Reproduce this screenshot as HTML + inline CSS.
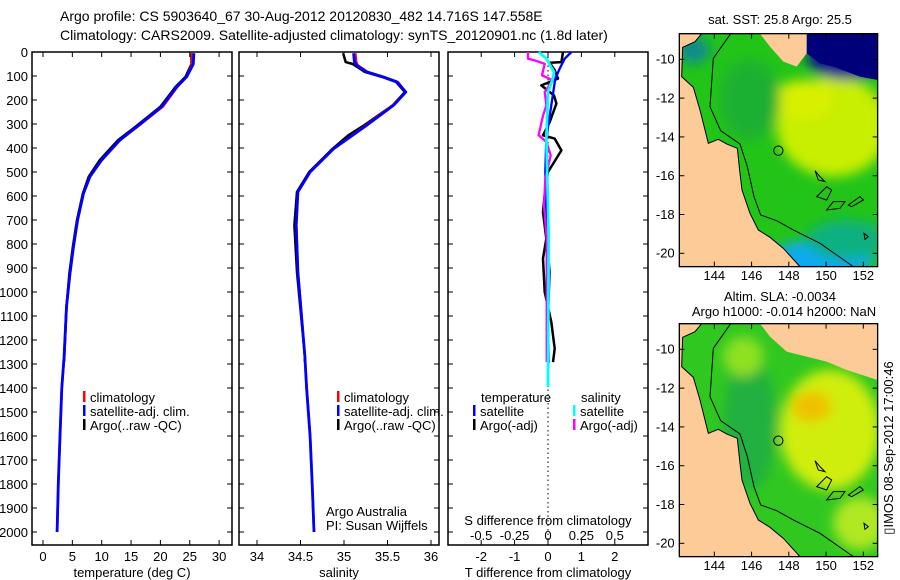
<!DOCTYPE html>
<html><head><meta charset="utf-8"><style>
body{margin:0;background:#fff;}
svg{display:block;font-family:"Liberation Sans",sans-serif;}
</style></head><body>
<svg id="fig" width="900" height="580" viewBox="0 0 900 580">
<defs>
<filter id="bl" x="-20%" y="-20%" width="140%" height="140%"><feGaussianBlur stdDeviation="18"/></filter>
<clipPath id="mapclip"><rect x="58" y="101" width="595" height="699"/></clipPath>
</defs>
<text x="60" y="21" font-size="14">Argo profile: CS 5903640_67 30-Aug-2012 20120830_482 14.716S 147.558E</text>
<text x="60" y="40" font-size="14">Climatology: CARS2009. Satellite-adjusted climatology: synTS_20120901.nc (1.8d later)</text>
<g id="plots"></g>
<g id="maps"></g>
<text transform="translate(893,448) rotate(-90)" font-size="13" text-anchor="middle">▯IMOS 08-Sep-2012 17:00:46</text>
</svg>
<script>
// ---- data ----
const depthT = [5,50,103,145,228,311,367,450,519,589,700,811,922,1061,1269,1400,1600,1800,2000];
const tempSat = [25.7,25.6,24.5,22.8,20.2,16,13.1,10,8,6.9,5.9,5.2,4.6,4.0,3.6,3.2,2.9,2.6,2.4];
const tempClim = [25.4,25.4,24.5,22.9,20.4,16.1,13.1,10,8,6.9,5.9,5.2,4.6,4.0,3.6,3.2,2.9,2.6,2.4];
const depthTArgo = [5,50,103,145,228,311,367,450,519,589,700,811,922,1061,1290];
const tempArgo = [25.3,25.3,24.3,22.6,20.0,15.8,12.8,9.7,7.8,6.8,5.8,5.1,4.5,4.0,3.6];

const depthS = [5,42,56,83,104,125,167,222,306,403,500,583,722,917,1264,1400,1600,1800,2000];
const salSat = [35.11,35.12,35.15,35.26,35.45,35.61,35.71,35.57,35.26,34.88,34.61,34.47,34.45,34.47,34.55,34.57,34.61,34.635,34.655];
const salClim = [35.13,35.14,35.16,35.27,35.46,35.62,35.71,35.56,35.25,34.88,34.61,34.47,34.45,34.47,34.55,34.57,34.61,34.635,34.655];
const depthSArgo = [5,42,50,83,104,125,167,222,306,347,403,500,583,722,917,1264,1290];
const salArgo = [34.99,35.02,35.1,35.24,35.44,35.60,35.70,35.56,35.23,35.05,34.87,34.60,34.46,34.43,34.46,34.55,34.55];

const depthTd = [0,28,69,111,222,361,500,778,917,1100,1296];
const tdSat = [0.70,0.5,0.35,0.22,0.1,-0.05,-0.08,-0.03,0.05,0,0.02];
const depthTdArgo = [0,42,45,76,111,139,181,215,292,347,361,410,500,569,667,778,861,1000,1125,1236,1292];
const tdArgo = [0.45,0.40,0.05,0.2,0.3,-0.2,0.18,0.25,0.05,-0.15,0.2,0.4,0,-0.08,-0.15,-0.05,-0.15,-0.1,0.1,0.2,0.15];
const depthSd = [0,28,35,49,97,118,167,222,264,347,375,431,528,639,778,1292];
const sdArgo = [-0.15,-0.15,-0.1,-0.025,-0.045,0.037,-0.025,-0.012,-0.037,-0.07,-0.012,0.02,-0.02,-0.03,-0.01,-0.01];
const depthSdSat = [0,28,83,111,167,361,778,1396];
const sdSat = [-0.07,-0.012,0.045,0.037,0,-0.012,0.005,0];

const depthTicks = [0,100,200,300,400,500,600,700,800,900,1000,1100,1200,1300,1400,1500,1600,1700,1800,1900,2000];
const tempTicks = [0,5,10,15,20,25,30];
const salTicks = [34,34.5,35,35.5,36];
const tdTicks = [-2,-1,0,1,2];
const sdTicks = [-0.5,-0.25,0,0.25,0.5];
const mapLonTicks = [144,146,148,150,152];
const mapLatTicks = [10,12,14,16,18,20];

// ---- scales ----
const NS='http://www.w3.org/2000/svg';
const yD = d => 52 + d*0.24;
const xT = t => 43 + t*5.87;
const xS = s => 257 + (s-34)*87;
const xTd = t => 548 + t*33.4;
const xSd = s => 548 + s*133.6;
const plots = document.getElementById('plots');
function el(tag, attrs, parent){const e=document.createElementNS(NS,tag);for(const k in attrs)e.setAttribute(k,attrs[k]);(parent||plots).appendChild(e);return e;}
function txt(x,y,s,size,anchor,parent){const t=el('text',{x:x,y:y,'font-size':size,'text-anchor':anchor||'start'},parent);t.textContent=s;return t;}

const panels=[{x0:32,x1:232,name:'temperature-panel'},{x0:239,x1:439,name:'salinity-panel'},{x0:448,x1:648,name:'difference-panel'}];
const TOP=52, BOT=545;
panels.forEach(p=>{
  const r=el('rect',{x:p.x0,y:TOP,width:p.x1-p.x0,height:BOT-TOP,fill:'none',stroke:'#000','stroke-width':1.5});
  
  
  depthTicks.forEach(d=>{
    el('line',{x1:p.x0,x2:p.x0+5,y1:yD(d),y2:yD(d),stroke:'#000'});
    el('line',{x1:p.x1-5,x2:p.x1,y1:yD(d),y2:yD(d),stroke:'#000'});
  });
});
depthTicks.forEach(d=>{
  const t=txt(28,yD(d)+5,String(d),13,'end');
  
  
});
function xticks(vals,fx,labelFmt,ylab){
  vals.forEach(v=>{
    el('line',{x1:fx(v),x2:fx(v),y1:BOT,y2:BOT-5,stroke:'#000'});
    el('line',{x1:fx(v),x2:fx(v),y1:TOP,y2:TOP+5,stroke:'#000'});
    const t=txt(fx(v),ylab,labelFmt(v),13,'middle');
    
    
  });
}
xticks(tempTicks,xT,v=>String(v),561);
xticks(salTicks,xS,v=>String(v),561);
xticks(tdTicks,xTd,v=>String(v),561);
sdTicks.forEach(v=>{
  const t=txt(xSd(v),540,String(v).replace('-','\u22120').replace('\u22120','-'),13,'middle');
  
  
});
let t;
t=txt(132,577,'temperature (deg C)',13,'middle');
t=txt(339,577,'salinity',13,'middle');
t=txt(548,577,'T difference from climatology',13,'middle');
t=txt(548,525,'S difference from climatology',13,'middle');
t=txt(326,516,'Argo Australia',13);
t=txt(326,530,'PI: Susan Wijffels',13);

// zero line
const zl=el('line',{x1:548,x2:548,y1:TOP,y2:BOT,stroke:'#000','stroke-dasharray':'1.5,3'});



function series(ds,vs,fx,color,w,name){
  const pts=ds.map((d,i)=>fx(vs[i]).toFixed(1)+','+yD(d).toFixed(1)).join(' ');
  const pl=el('polyline',{points:pts,fill:'none',stroke:color,'stroke-width':w,'stroke-linejoin':'round'});
  
  
}
series(depthTArgo,tempArgo,xT,'#000',2.5,'temperature-argo-line');
series(depthT,tempClim,xT,'#f00',2.5,'temperature-climatology-line');
series(depthT,tempSat,xT,'#00f',2.8,'temperature-satellite-line');
series(depthSArgo,salArgo,xS,'#000',2.5,'salinity-argo-line');
series(depthS,salClim,xS,'#f00',2.5,'salinity-climatology-line');
series(depthS,salSat,xS,'#00f',2.8,'salinity-satellite-line');
series(depthTdArgo,tdArgo,xTd,'#000',2.5,'t-diff-argo-line');
series(depthTd,tdSat,xTd,'#00f',2.3,'t-diff-satellite-line');
series(depthSd,sdArgo,xSd,'#f0f',2.3,'s-diff-argo-line');
series(depthSdSat,sdSat,xSd,'#0ff',2.8,'s-diff-satellite-line');

function legend(x,y,items){
  items.forEach((it,i)=>{
    el('rect',{x:x,y:y+i*14-11,width:2.5,height:11,fill:it[0]});
    const tt=txt(x+7,y+i*14,it[1],13);
    
    
  });
}
legend(83,402,[['#f00','climatology'],['#00f','satellite-adj. clim.'],['#000','Argo(..raw -QC)']]);
legend(337,402,[['#f00','climatology'],['#00f','satellite-adj. clim.'],['#000','Argo(..raw -QC)']]);
t=txt(481,402,'temperature',13);
t=txt(581,402,'salinity',13);
legend(473,416,[['#00f','satellite'],['#000','Argo(-adj)']]);
legend(573,416,[['#0ff','satellite'],['#f0f','Argo(-adj)']]);

// ---- maps ----
const maps=document.getElementById('maps');
const land="58,101 125,101 105,125 68,142 65,230 100,262 120,330 135,390 145,430 175,418 200,432 232,445 240,520 246,570 270,640 295,690 330,712 370,745 420,800 58,800";
const shelf="212,101 160,175 150,320 182,392 240,432 262,500 282,590 302,645 350,662 400,690 480,730 580,800";
function makeMap(oy,kind){
  const g=el('g',{transform:'translate(660,'+oy+') scale(0.3333)'},maps);
  
  
  const c=el('g',{'clip-path':'url(#mapclip)'},g);
  if(kind==='sst'){
    el('rect',{x:58,y:101,width:595,height:699,fill:'#22c418'},c);
    const b=el('g',{filter:'url(#bl)'},c);
    el('ellipse',{cx:520,cy:380,rx:170,ry:150,fill:'#c8ee00'},b);
    el('ellipse',{cx:430,cy:300,rx:90,ry:60,fill:'#d8f000'},b);
    el('ellipse',{cx:270,cy:300,rx:90,ry:120,fill:'#1eb030'},b);
    el('ellipse',{cx:480,cy:780,rx:160,ry:60,fill:'#10aaf0'},b);
    el('ellipse',{cx:560,cy:720,rx:120,ry:60,fill:'#10b080'},b);
    el('ellipse',{cx:560,cy:170,rx:120,ry:70,fill:'#0a1a8a'},b);
    el('ellipse',{cx:100,cy:150,rx:50,ry:40,fill:'#108a90'},b);
    el('polygon',{points:"440,101 653,101 653,240 600,230 560,215 520,200 480,190 440,160",fill:'#00007a'},c);
    el('polygon',{points:"300,101 440,101 440,160 410,200 370,185 330,140",fill:'#fccb98'},c);
  } else {
    el('rect',{x:58,y:101,width:595,height:699,fill:'#30c820'},c);
    const b=el('g',{filter:'url(#bl)'},c);
    el('ellipse',{cx:510,cy:420,rx:150,ry:180,fill:'#d0ee10'},b);
    el('ellipse',{cx:455,cy:350,rx:60,ry:45,fill:'#f0c000'},b);
    el('ellipse',{cx:270,cy:400,rx:80,ry:200,fill:'#20b040'},b);
    el('ellipse',{cx:600,cy:700,rx:80,ry:80,fill:'#b0e820'},b);
    el('ellipse',{cx:250,cy:200,rx:60,ry:60,fill:'#90e020'},b);
    el('polygon',{points:"300,101 653,101 653,270 560,240 500,215 440,200 380,185 330,140",fill:'#fccb98'},c);
  }
  el('polygon',{points:land,fill:'#fccb98',stroke:'#000','stroke-width':3},c);
  el('polyline',{points:shelf,fill:'none',stroke:'#000','stroke-width':3},c);
  el('path',{d:"M465,512 L475,540 L495,545 L480,530 Z M500,560 L470,590 L500,600 L515,570 Z M500,630 L520,605 L555,605 L540,625 Z M565,615 L600,590 L610,600 L575,620 Z M612,700 L625,710 L615,718 Z",fill:'none',stroke:'#000','stroke-width':3},c);
  const circ=el('circle',{cx:355,cy:452,r:14,fill:'none',stroke:'#000','stroke-width':3},g);
  
  
  el('rect',{x:58,y:101,width:595,height:699,fill:'none',stroke:'#000','stroke-width':4},g);
  mapLonTicks.forEach(lon=>{
    const X=163+(lon-144)*(610-163)/8;
    el('line',{x1:X,x2:X,y1:800,y2:785,stroke:'#000','stroke-width':3},g);
    el('line',{x1:X,x2:X,y1:101,y2:116,stroke:'#000','stroke-width':3},g);
    const lt=txt(X,840,String(lon),39,'middle',g);
    
    
  });
  mapLatTicks.forEach(lat=>{
    const Y=178+(lat-10)*(760-178)/10;
    el('line',{x1:58,x2:73,y1:Y,y2:Y,stroke:'#000','stroke-width':3},g);
    el('line',{x1:638,x2:653,y1:Y,y2:Y,stroke:'#000','stroke-width':3},g);
    const lt=txt(44,Y+13,'-'+lat,39,'end',g);
    
    
  });
}
makeMap(0,'sst');
makeMap(290,'sla');
t=txt(780,24,'sat. SST: 25.8 Argo: 25.5',13,'middle',maps);
t=txt(780,301,'Altim. SLA: -0.0034',13,'middle',maps);
t=txt(784,316,'Argo h1000: -0.014 h2000: NaN',13,'middle',maps);
</script>
</body></html>
